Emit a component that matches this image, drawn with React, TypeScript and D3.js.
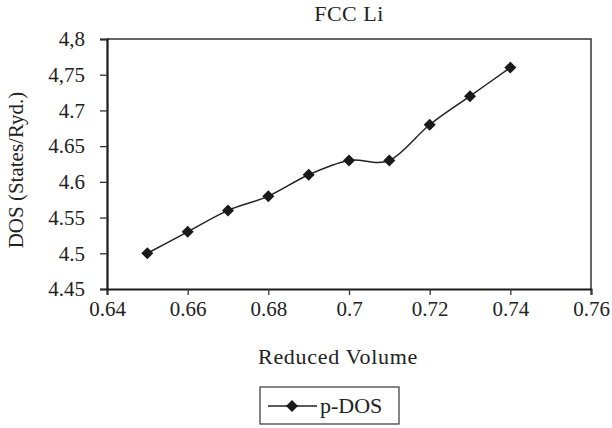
import React, { useEffect, useRef } from 'react';
import * as d3 from 'd3';

const volumes = [0.65, 0.66, 0.67, 0.68, 0.69, 0.7, 0.71, 0.72, 0.73, 0.74];
const pDos = [4.5, 4.53, 4.56, 4.58, 4.61, 4.63, 4.63, 4.68, 4.72, 4.76];

const xTicks = [0.64, 0.66, 0.68, 0.7, 0.72, 0.74, 0.76];
const xTickLabels = ['0.64', '0.66', '0.68', '0.7', '0.72', '0.74', '0.76'];
const yTicks = [4.45, 4.5, 4.55, 4.6, 4.65, 4.7, 4.75, 4.8];
const yTickLabels = ['4.45', '4.5', '4.55', '4.6', '4.65', '4.7', '4,75', '4,8'];

const FONT = '"Liberation Serif", "Times New Roman", serif';

const App = () => {
    const svgRef = useRef<SVGSVGElement>(null);

    useEffect(() => {
        const width = 612;
        const height = 428;
        const left = 107, right = 591, top = 39, bottom = 289;

        const svg = d3.select(svgRef.current)
            .attr('width', width)
            .attr('height', height);
        svg.selectAll('*').remove();

        const x = d3.scaleLinear().domain([0.64, 0.76]).range([left, right]);
        const y = d3.scaleLinear().domain([4.45, 4.8]).range([bottom, top]);

        // frame (top + right thin)
        svg.append('path')
            .attr('d', `M${left},${top}H${right}V${bottom}`)
            .attr('fill', 'none')
            .attr('stroke', '#333')
            .attr('stroke-width', 1.5);

        // y axis
        const yAxis = svg.append('g').attr('transform', `translate(${left},0)`)
            .call(d3.axisLeft(y).tickValues(yTicks).tickSize(7)
                .tickFormat((_, i) => yTickLabels[i]));
        yAxis.select('.domain').attr('stroke', '#1a1a1a').attr('stroke-width', 2.2);
        yAxis.selectAll('.tick line').attr('stroke', '#333').attr('stroke-width', 1.3);
        yAxis.selectAll('.tick text')
            .attr('x', -22)
            .attr('font-family', FONT)
            .attr('font-size', 21)
            .attr('fill', '#222');

        // x axis
        const xAxis = svg.append('g').attr('transform', `translate(0,${bottom})`)
            .call(d3.axisBottom(x).tickValues(xTicks).tickSize(6)
                .tickFormat((_, i) => xTickLabels[i]));
        xAxis.select('.domain').attr('stroke', '#1a1a1a').attr('stroke-width', 2);
        xAxis.selectAll('.tick line').attr('stroke', '#333').attr('stroke-width', 1.3);
        xAxis.selectAll('.tick text')
            .attr('y', 12)
            .attr('font-family', FONT)
            .attr('font-size', 21)
            .attr('fill', '#222');

        // smoothed line (uniform Catmull-Rom, like the spreadsheet smoothing)
        const pts = volumes.map((v, i) => [v, pDos[i]] as [number, number]);
        const line = d3.line<[number, number]>()
            .x(d => x(d[0]))
            .y(d => y(d[1]))
            .curve(d3.curveCardinal.tension(0));
        svg.append('path')
            .attr('d', line(pts))
            .attr('fill', 'none')
            .attr('stroke', '#222')
            .attr('stroke-width', 1.5);

        const diamond = d3.symbol(d3.symbolSquare, 72);
        svg.selectAll('path.pt')
            .data(pts)
            .enter()
            .append('path')
            .attr('class', 'pt')
            .attr('d', diamond)
            .attr('transform', d => `translate(${x(d[0])},${y(d[1])}) rotate(45)`)
            .attr('fill', '#1a1a1a');

        // titles
        svg.append('text')
            .attr('x', 349).attr('y', 21)
            .attr('text-anchor', 'middle')
            .attr('font-family', FONT).attr('font-size', 22)
            .attr('letter-spacing', 0.5)
            .attr('fill', '#222')
            .text('FCC Li');

        svg.append('text')
            .attr('x', 338).attr('y', 364)
            .attr('text-anchor', 'middle')
            .attr('font-family', FONT).attr('font-size', 22)
            .attr('letter-spacing', 0.7)
            .attr('fill', '#222')
            .text('Reduced Volume');

        svg.append('text')
            .attr('transform', 'translate(23,170) rotate(-90)')
            .attr('text-anchor', 'middle')
            .attr('font-family', FONT).attr('font-size', 21)
            .attr('fill', '#222')
            .text('DOS (States/Ryd.)');

        // legend
        const lg = svg.append('g');
        lg.append('rect')
            .attr('x', 260).attr('y', 387)
            .attr('width', 139).attr('height', 37)
            .attr('fill', 'none')
            .attr('stroke', '#444')
            .attr('stroke-width', 1.3);
        lg.append('line')
            .attr('x1', 268).attr('x2', 317)
            .attr('y1', 406).attr('y2', 406)
            .attr('stroke', '#222').attr('stroke-width', 1.5);
        lg.append('path')
            .attr('d', diamond)
            .attr('transform', 'translate(292,406) rotate(45)')
            .attr('fill', '#1a1a1a');
        lg.append('text')
            .attr('x', 320).attr('y', 413)
            .attr('font-family', FONT).attr('font-size', 22)
            .attr('fill', '#222')
            .text('p-DOS');
    }, []);

    return (
        <svg ref={svgRef} style={{ position: 'absolute', left: 0, top: 0, background: '#fff' }}></svg>
    );
};

export default App;
